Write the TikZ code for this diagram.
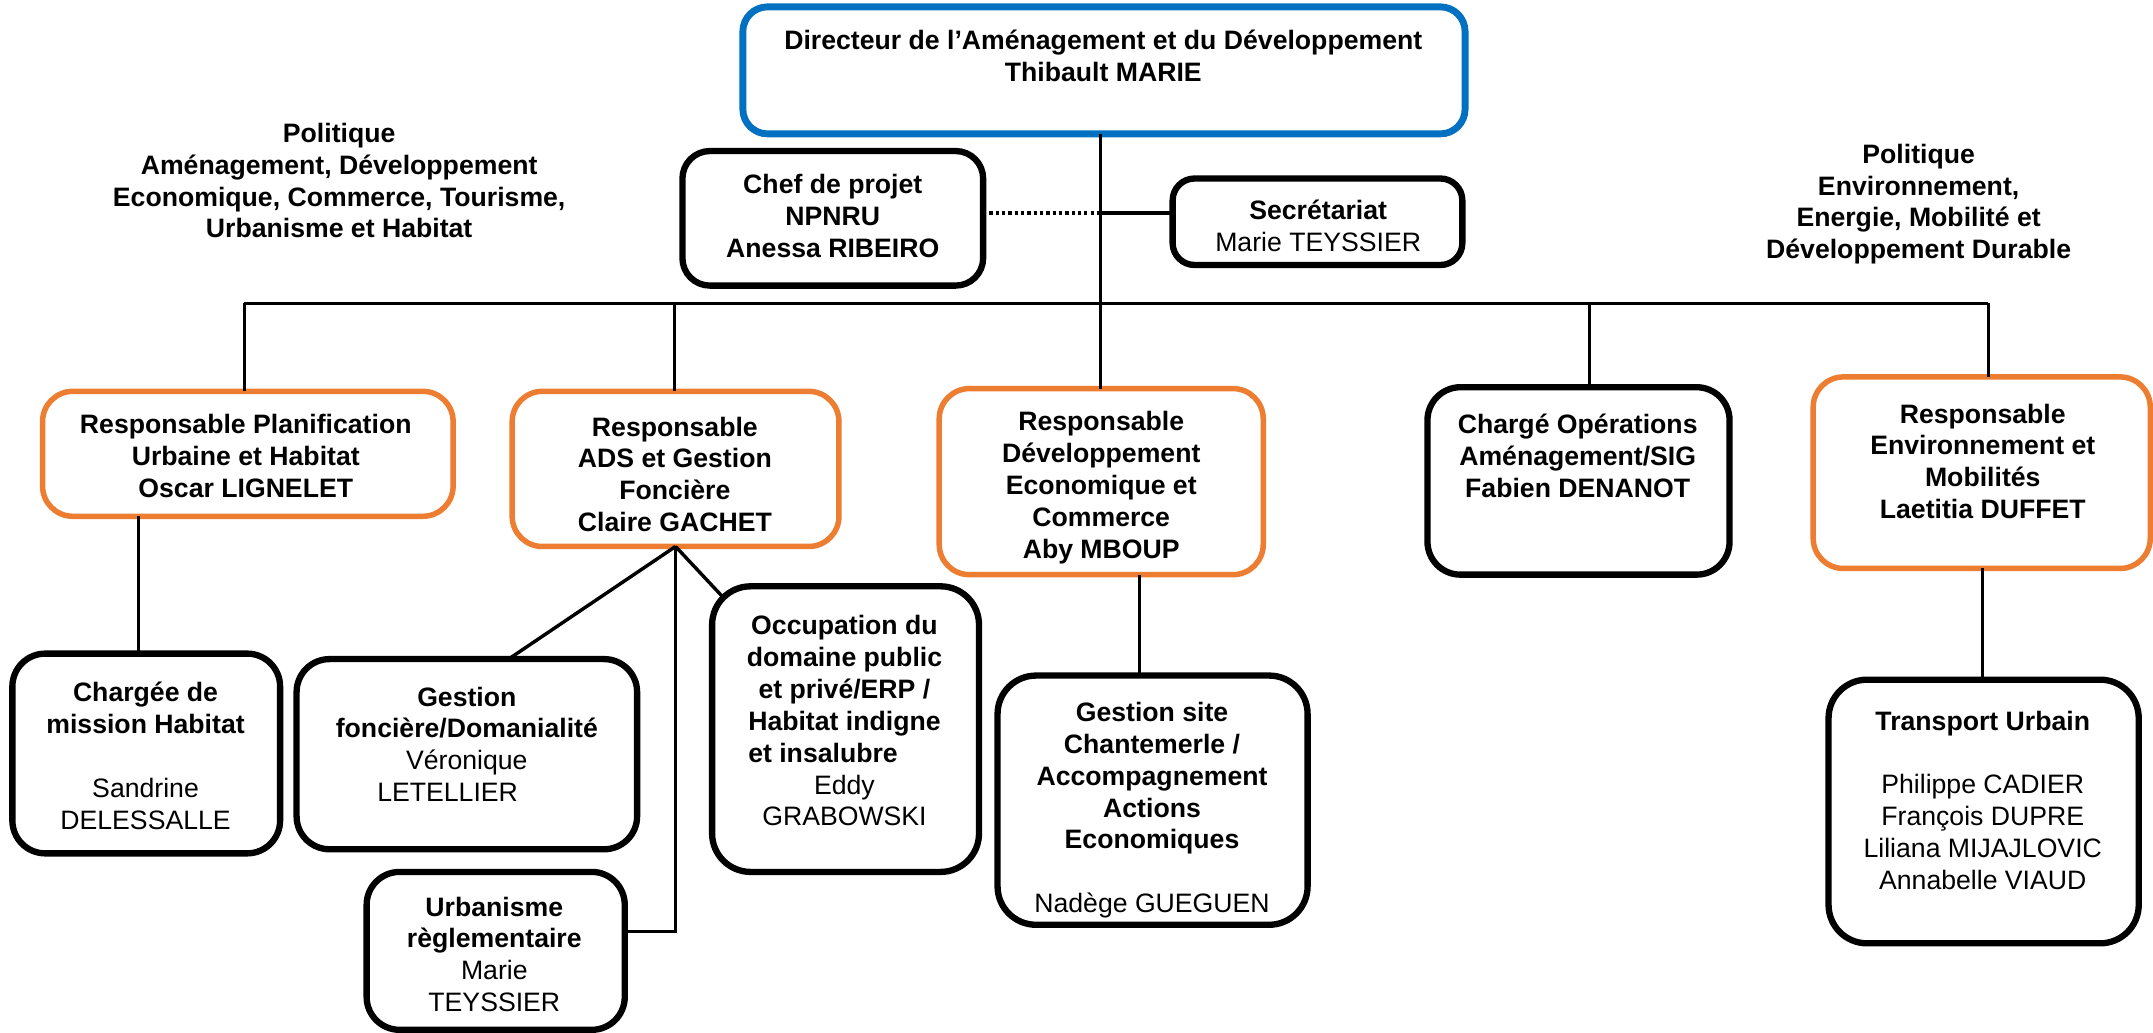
\documentclass[tikz,border=0pt]{standalone}
\usepackage{fontspec}
\setmainfont{Liberation Sans}
\usetikzlibrary{calc}
\definecolor{dirblue}{RGB}{0,112,192}
\definecolor{resporange}{RGB}{237,125,49}
\tikzset{
  boxbase/.style={draw, rectangle, inner sep=0pt, outer sep=0pt, fill=white},
  blackbox/.style={boxbase, line width=4.6pt, rounded corners=24pt},
  orangebox/.style={boxbase, draw=resporange, line width=4pt, rounded corners=22pt},
  bluebox/.style={boxbase, draw=dirblue, line width=5pt, rounded corners=18pt},
  txt/.style={align=center, inner sep=0pt, outer sep=0pt, font=\fontsize{19.4}{23.2}\selectfont},
  link/.style={line width=2.5pt},
  dotlink/.style={line width=2.8pt, dash pattern=on 2.4pt off 2.2pt}
}
\begin{document}
\begin{tikzpicture}[x=1pt, y=-1pt]
\useasboundingbox (0,0) rectangle (1568,752);

% ---- boxes ----
\node[bluebox, minimum width=526pt, minimum height=92.5pt] (dir) at (804,51.25) {};
\node[blackbox, rounded corners=20pt, minimum width=219pt, minimum height=98pt] (chef) at (606.5,159) {};
\node[blackbox, rounded corners=16pt, minimum width=211pt, minimum height=63pt] (sec) at (959.5,161.5) {};

\node[orangebox, minimum width=299pt, minimum height=91pt] (plan) at (180.5,330.5) {};
\node[orangebox, minimum width=238pt, minimum height=113pt] (ads) at (492,341.5) {};
\node[orangebox, minimum width=236pt, minimum height=135.5pt] (deve) at (802,350.75) {};
\node[blackbox, minimum width=220pt, minimum height=136.5pt] (charge) at (1149.6,350.25) {};
\node[orangebox, minimum width=245.5pt, minimum height=139.5pt] (env) at (1443.25,344.25) {};

\node[blackbox, minimum width=195pt, minimum height=145.5pt] (chm) at (106.5,548.75) {};
\node[blackbox, minimum width=248pt, minimum height=138.5pt] (gf) at (340,549.25) {};
\node[blackbox, minimum width=188pt, minimum height=115pt] (urb) at (361,692.5) {};
\node[blackbox, rounded corners=28pt, minimum width=194.4pt, minimum height=208pt] (occ) at (615.8,531) {};
\node[blackbox, rounded corners=28pt, minimum width=225.8pt, minimum height=181.5pt] (gs) at (839.4,582.75) {};
\node[blackbox, rounded corners=28pt, minimum width=225.9pt, minimum height=192pt] (tr) at (1444.65,591) {};

% ---- texts ----
\node[txt] (dirt) at (803.5,40.5) {\textbf{Directeur de l’Aménagement et du Développement}\\\textbf{Thibault MARIE}};
\node[txt] (cheft) at (606.5,157.5) {\textbf{Chef de projet}\\\textbf{NPNRU}\\\textbf{Anessa RIBEIRO}};
\node[txt] (sect) at (960,164.5) {\textbf{Secrétariat}\\Marie TEYSSIER};
\node[txt] (polL) at (247,131.5) {\textbf{Politique}\\\textbf{Aménagement, Développement}\\\textbf{Economique, Commerce, Tourisme,}\\\textbf{Urbanisme et Habitat}};
\node[txt] (polR) at (1397.3,148.6) {\textbf{Politique}\\\textbf{Environnement,}\\\textbf{Energie, Mobilité et}\\\textbf{Développement Durable}};

\node[txt] (plant) at (179,332) {\textbf{Responsable Planification}\\\textbf{Urbaine et Habitat}\\\textbf{Oscar LIGNELET}};
\node[txt] (adst) at (491.5,345.5) {\textbf{Responsable}\\\textbf{ADS et Gestion}\\\textbf{Foncière}\\\textbf{Claire GACHET}};
\node[txt] (devet) at (802,355) {\textbf{Responsable}\\\textbf{Développement}\\\textbf{Economique et}\\\textbf{Commerce}\\\textbf{Aby MBOUP}};
\node[txt] (charget) at (1149,332) {\textbf{Chargé Opérations}\\\textbf{Aménagement/SIG}\\\textbf{Fabien DENANOT}};
\node[txt] (envt) at (1444,336) {\textbf{Responsable}\\\textbf{Environnement et}\\\textbf{Mobilités}\\\textbf{Laetitia DUFFET}};

\node[txt] (chmt) at (106,550.5) {\textbf{Chargée de}\\\textbf{mission Habitat}\\[23.2pt]Sandrine\\DELESSALLE};
\node[txt] (gft) at (340,542) {\textbf{Gestion}\\\textbf{foncière/Domanialité}\\Véronique\\LETELLIER\hspace*{28pt}};
\node[txt] (urbt) at (360,695) {\textbf{Urbanisme}\\\textbf{règlementaire}\\Marie\\TEYSSIER};
\node[txt] (occt) at (615,525) {\textbf{Occupation du}\\\textbf{domaine public}\\\textbf{et privé/ERP /}\\\textbf{Habitat indigne}\\\rlap{\textbf{et insalubre}}\phantom{\textbf{Habitat indigne}}\\Eddy\\GRABOWSKI};
\node[txt] (gst) at (839,590) {\textbf{Gestion site}\\\textbf{Chantemerle /}\\\textbf{Accompagnement}\\\textbf{Actions}\\\textbf{Economiques}\\[23.2pt]Nadège GUEGUEN};
\node[txt] (trt) at (1444,582.75) {\textbf{Transport Urbain}\\[23.2pt]Philippe CADIER\\François DUPRE\\Liliana MIJAJLOVIC\\Annabelle VIAUD};

% ---- connector coordinates ----
\coordinate (trunk) at (801.5,155);
\coordinate (busL) at (178,221);
\coordinate (busA) at (491.3,221);
\coordinate (busC) at (1157.7,221);
\coordinate (busR) at (1448,221);
\coordinate (planx) at (101,0);
\coordinate (gfx) at (370.4,0);
\coordinate (urbj) at (491.3,678.5);
\coordinate (dex) at (830,0);
\coordinate (trx) at (1444,0);
\coordinate (occc) at ($(occ.north west)+(8.2,8.2)$);

% ---- connectors ----
\draw[link] (dir.south -| trunk) -- (deve.north -| trunk);
\draw[dotlink] (chef.east |- trunk) -- (trunk);
\draw[link] (trunk) -- (sec.west |- trunk);
\draw[link] (busL) -- (busR);
\draw[link] (busL) -- (plan.north -| busL);
\draw[link] (busA) -- (ads.north -| busA);
\draw[link] (busC) -- (charge.north -| busC);
\draw[link] (busR) -- (env.north -| busR);

\draw[link] (plan.south -| planx) -- (chm.north -| planx);
\draw[link] (ads.south) -- (gf.north -| gfx);
\draw[link] (ads.south) -- (occc);
\draw[link] (ads.south) -- (ads.south |- urbj) -- (urb.east |- urbj);
\draw[link] (deve.south -| dex) -- (gs.north -| dex);
\draw[link] (env.south -| trx) -- (tr.north -| trx);
\end{tikzpicture}
\end{document}
